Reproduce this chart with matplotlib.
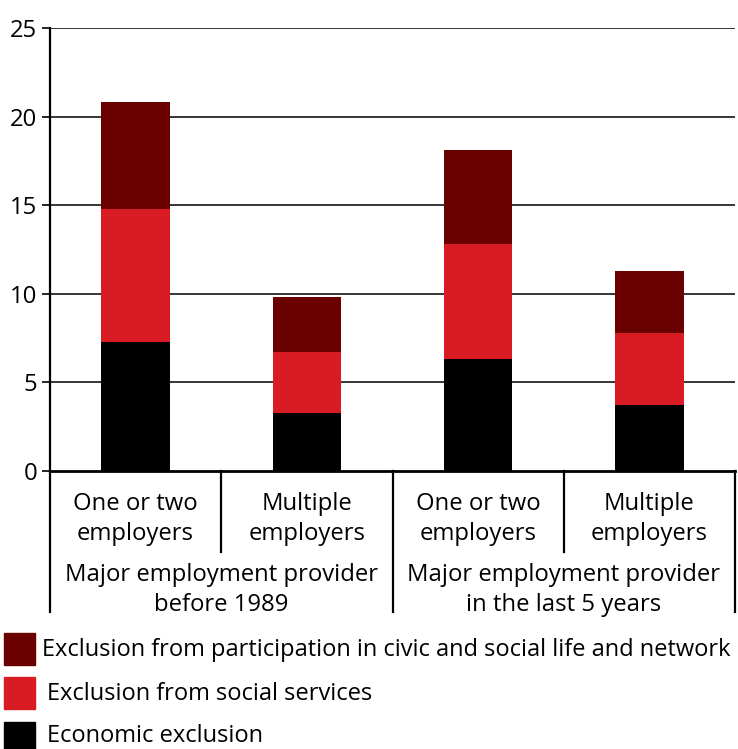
import matplotlib
matplotlib.use("Agg")
import matplotlib.pyplot as plt
from matplotlib.patches import Rectangle
from matplotlib.lines import Line2D

plt.rcParams['font.family'] = ['Open Sans', 'DejaVu Sans']

categories = ["One or two\nemployers", "Multiple\nemployers", "One or two\nemployers", "Multiple\nemployers"]
groups = ["Major employment provider\nbefore 1989", "Major employment provider\nin the last 5 years"]
economic = [7.3, 3.3, 6.3, 3.7]
social_services = [7.5, 3.4, 6.5, 4.1]
civic = [6.0, 3.1, 5.3, 3.5]
series_names = ["Exclusion from participation in civic and social life and network",
                "Exclusion from social services",
                "Economic exclusion"]
colors = {"civic": "#6B0000", "social": "#D91C24", "econ": "#000000"}
yticks = [0, 5, 10, 15, 20, 25]

FS = 17.2
LFS = 17.0
W, H = 738, 749
fig = plt.figure(figsize=(W/100, H/100), dpi=100)
ax = fig.add_axes([50/W, 1-471/H, 685/W, 443/H])

x = list(range(len(categories)))
bw = 0.4
ax.bar(x, economic, width=bw, color=colors["econ"], zorder=3)
bottom2 = economic
ax.bar(x, social_services, width=bw, bottom=bottom2, color=colors["social"], zorder=3)
bottom3 = [a + b for a, b in zip(economic, social_services)]
ax.bar(x, civic, width=bw, bottom=bottom3, color=colors["civic"], zorder=3)

ax.set_xlim(-0.5, len(categories) - 0.5)
ax.set_ylim(0, 25)
ax.set_yticks(yticks)
ax.set_yticklabels([str(t) for t in yticks], fontsize=FS)
ax.tick_params(axis='y', length=6, width=1.2, pad=3, colors='black')
ax.set_xticks([])
for t in yticks[1:]:
    ax.axhline(t, color='black', lw=1.1, zorder=1)
for s in ['top', 'right']:
    ax.spines[s].set_visible(False)
ax.spines['left'].set_linewidth(1.6)
ax.spines['bottom'].set_linewidth(2.0)
ax.spines['left'].set_zorder(4)
ax.spines['bottom'].set_zorder(4)

trans = ax.get_xaxis_transform()
def ylow(px):
    return -(px - 471) / 443.0
for i in range(len(categories) + 1):
    xpos = i - 0.5
    is_group = (i % 2 == 0)
    yend = ylow(612) if is_group else ylow(552)
    ax.add_line(Line2D([xpos, xpos], [0, yend], transform=trans, color='black',
                       lw=1.6, clip_on=False))

for i, c in enumerate(categories):
    ax.text(i, ylow(519), c, transform=trans, ha='center', va='center',
            fontsize=FS, linespacing=1.3)
for g, name in enumerate(groups):
    ax.text(2*g + 0.5, ylow(590), name, transform=trans, ha='center', va='center',
            fontsize=FS, linespacing=1.33)

leg_colors = [colors["civic"], colors["social"], colors["econ"]]
leg_tops = [633, 677, 722]
leg_text_y = [650, 694, 736]
leg_text_x = [42, 47, 47]
for name, col, top, ty, tx in zip(series_names, leg_colors, leg_tops, leg_text_y, leg_text_x):
    fig.patches.append(Rectangle((4/W, 1-(top+32)/H), 31/W, 32/H, transform=fig.transFigure,
                                 color=col))
    fig.text(tx/W, 1-ty/H, name, ha='left', va='center', fontsize=LFS)

fig.savefig("out.png", dpi=100)
